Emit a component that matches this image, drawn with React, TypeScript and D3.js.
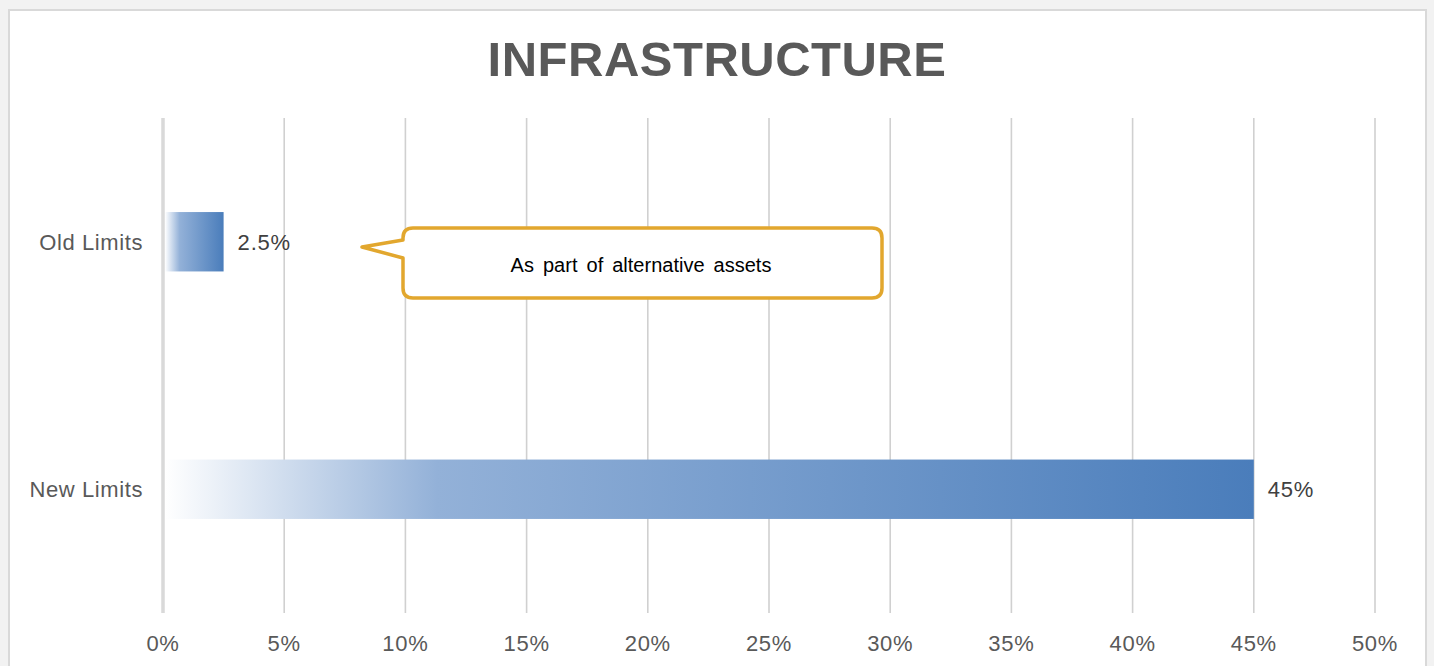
import React from "react";
import * as d3 from "d3";

const categories = ["Old Limits", "New Limits"];
const values = [0.025, 0.45];
const valueLabels = ["2.5%", "45%"];
const xTicks = [0, 0.05, 0.1, 0.15, 0.2, 0.25, 0.3, 0.35, 0.4, 0.45, 0.5];
const title = "INFRASTRUCTURE";
const calloutText = "As part of alternative assets";

export default function App() {
  const W = 1434, H = 666;
  const x = d3.scaleLinear().domain([0, 0.5]).range([163, 1375]);
  const y = d3.scalePoint<string>().domain(categories).range([118, 613]).padding(0.5);
  const barH = y.step() * 0.24;
  const font = "Arial, 'Liberation Sans', Helvetica, sans-serif";
  const fmt = d3.format(".0%");

  // callout geometry
  const bx0 = 403, bx1 = 882, by0 = 228, by1 = 298, r = 10;
  const tipX = 362, tipY = 247, attTop = 240, attBot = 258;
  const calloutPath = [
    `M${bx0 + r},${by0}`,
    `L${bx1 - r},${by0}`,
    `Q${bx1},${by0} ${bx1},${by0 + r}`,
    `L${bx1},${by1 - r}`,
    `Q${bx1},${by1} ${bx1 - r},${by1}`,
    `L${bx0 + r},${by1}`,
    `Q${bx0},${by1} ${bx0},${by1 - r}`,
    `L${bx0},${attBot}`,
    `L${tipX},${tipY}`,
    `L${bx0},${attTop}`,
    `L${bx0},${by0 + r}`,
    `Q${bx0},${by0} ${bx0 + r},${by0}`,
    "Z",
  ].join(" ");

  return (
    <svg width={W} height={H} style={{ position: "absolute", left: 0, top: 0, display: "block" }} fontFamily={font}>
      <defs>
        <linearGradient id="barGrad" x1="0" x2="1" y1="0" y2="0">
          <stop offset="0" stopColor="#ffffff" />
          <stop offset="0.25" stopColor="#93b1d8" />
          <stop offset="1" stopColor="#4a7dbb" />
        </linearGradient>
      </defs>
      <rect x={0} y={0} width={W} height={H} fill="#f2f2f2" />
      <rect x={9} y={10} width={1417} height={700} fill="#ffffff" stroke="#d9d9d9" strokeWidth={2} />
      <text x={717} y={76} textAnchor="middle" fontSize={49} fontWeight="bold" fill="#595959" letterSpacing={0.5}>
        {title}
      </text>
      {xTicks.map((t, i) => (
        <line
          key={"g" + i}
          x1={x(t)}
          x2={x(t)}
          y1={118}
          y2={613}
          stroke={t === 0 ? "#d9d9d9" : "#d0d0d0"}
          strokeWidth={t === 0 ? 3.5 : 1.6}
        />
      ))}
      {xTicks.map((t, i) => (
        <text key={"t" + i} x={x(t)} y={651} textAnchor="middle" fontSize={22} letterSpacing={0.7} fill="#595959">
          {fmt(t)}
        </text>
      ))}
      {categories.map((c, i) => {
        const cy = y(c)!;
        return (
          <g key={c}>
            <rect x={x(0) + 2} y={cy - barH / 2} width={x(values[i]) - x(0) - 2} height={barH} fill="url(#barGrad)" />
            <text x={143} y={cy + 8} textAnchor="end" fontSize={22} letterSpacing={0.6} fill="#595959">
              {c}
            </text>
            <text x={x(values[i]) + 14} y={cy + 8} fontSize={22} letterSpacing={0.8} fill="#404040">
              {valueLabels[i]}
            </text>
          </g>
        );
      })}
      <path d={calloutPath} fill="#ffffff" stroke="#e2a72e" strokeWidth={3.5} strokeLinejoin="round" />
      <text x={641} y={272} textAnchor="middle" fontSize={20} wordSpacing={3.5} fill="#000000">
        {calloutText}
      </text>
    </svg>
  );
}
